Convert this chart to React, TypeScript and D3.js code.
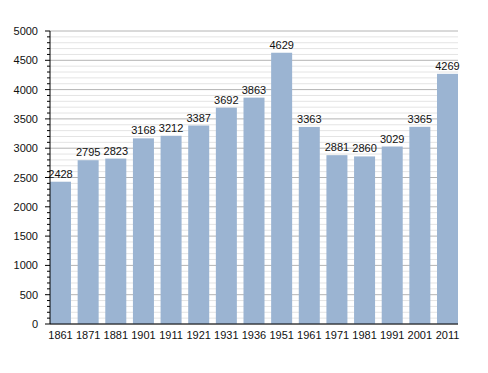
import { range, scaleBand, scaleLinear } from 'd3'

const years = ['1861', '1871', '1881', '1901', '1911', '1921', '1931', '1936', '1951', '1961', '1971', '1981', '1991', '2001', '2011']
const population = [2428, 2795, 2823, 3168, 3212, 3387, 3692, 3863, 4629, 3363, 2881, 2860, 3029, 3365, 4269]
const yTicks = [0, 500, 1000, 1500, 2000, 2500, 3000, 3500, 4000, 4500, 5000]

const width = 488
const height = 373
const margin = { top: 31, right: 30, bottom: 49, left: 50 }

export default function App() {
  const innerW = width - margin.left - margin.right
  const innerH = height - margin.top - margin.bottom

  const x = scaleBand<string>()
    .domain(years)
    .range([0, innerW])
    .paddingInner(0.24)
    .paddingOuter(0)

  const y = scaleLinear().domain([0, 5000]).range([innerH, 0])
  const minor = range(0, 5001, 100).filter((v) => v % 500 !== 0)

  return (
    <svg
      width={width}
      height={height}
      style={{ position: 'absolute', left: 0, top: 0, fontFamily: 'Liberation Sans, Arial, sans-serif' }}
    >
      <rect width={width} height={height} fill="#fff" />
      <g transform={`translate(${margin.left},${margin.top})`}>
        {minor.map((v) => (
          <line key={`m-${v}`} x1={0} x2={innerW} y1={y(v)} y2={y(v)} stroke="#e4e4e4" strokeWidth={1} />
        ))}
        {yTicks.map((v) => (
          <line key={`g-${v}`} x1={0} x2={innerW} y1={y(v)} y2={y(v)} stroke="#b4b4b4" strokeWidth={1} />
        ))}

        {years.map((yr, i) => (
          <rect
            key={yr}
            x={x(yr) ?? 0}
            y={y(population[i])}
            width={x.bandwidth()}
            height={innerH - y(population[i])}
            fill="#9bb4d2"
          />
        ))}

        {years.map((yr, i) => (
          <text
            key={`v-${yr}`}
            x={(x(yr) ?? 0) + x.bandwidth() / 2}
            y={y(population[i]) - 4}
            textAnchor="middle"
            fontSize={11}
            fill="#111"
          >
            {population[i]}
          </text>
        ))}

        <line x1={0} x2={0} y1={0} y2={innerH} stroke="#000" />
        <line x1={0} x2={innerW} y1={innerH} y2={innerH} stroke="#000" />
        {minor.map((v) => (
          <line key={`mt-${v}`} x1={-3} x2={0} y1={y(v)} y2={y(v)} stroke="#000" />
        ))}
        {yTicks.map((v) => (
          <g key={`t-${v}`} transform={`translate(0,${y(v)})`}>
            <line x1={-5} x2={0} y1={0} y2={0} stroke="#000" />
            <text x={-12} y={4} textAnchor="end" fontSize={11} fill="#111">
              {v}
            </text>
          </g>
        ))}
        {years.map((yr) => (
          <text
            key={`l-${yr}`}
            x={(x(yr) ?? 0) + x.bandwidth() / 2}
            y={innerH + 15}
            textAnchor="middle"
            fontSize={11}
            fill="#111"
          >
            {yr}
          </text>
        ))}
      </g>
    </svg>
  )
}
